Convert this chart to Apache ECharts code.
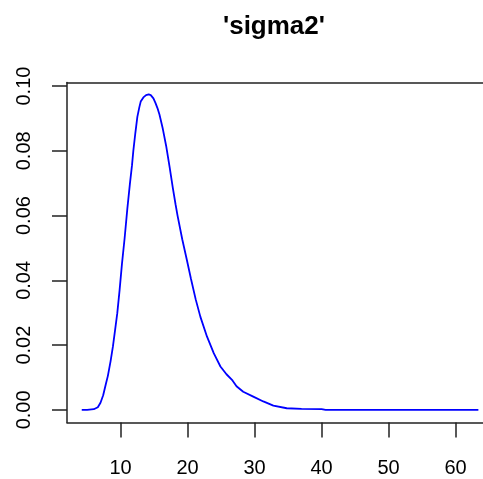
<!DOCTYPE html>
<html>
<head>
<meta charset="utf-8">
<script src="https://cdn.jsdelivr.net/npm/echarts@6/dist/echarts.min.js"></script>
<style>
    html, body { margin: 0; padding: 0; background: #fff; }
    #chart { width: 483px; height: 479px; }
</style>
</head>
<body>
<div id="chart"></div>
<script>
// density estimate of sigma2
const sigmaX = [
    4.2, 5.0, 6.0, 6.6, 7.0, 7.4, 7.8, 8.1, 8.5, 8.85,
    9.2, 9.5, 9.85, 10.2, 10.6, 11.0, 11.4, 11.7, 11.9, 12.2,
    12.5, 12.8, 13.0, 13.4, 13.8, 14.2, 14.5, 14.9, 15.2, 15.5,
    15.8, 16.3, 16.8, 17.3, 17.8, 18.2, 18.5, 19.2, 19.9, 20.5,
    21.2, 21.9, 22.9, 23.9, 24.9, 25.8, 26.7, 27.3, 28.3, 29.8,
    31.3, 32.8, 34.8, 37.0, 40.0, 40.6, 45, 50, 55, 60,
    63.4,
];
const density = [
    0, 0, 0.0002, 0.0008, 0.0022, 0.0045, 0.008, 0.0105, 0.015, 0.0195,
    0.025, 0.0298, 0.037, 0.045, 0.053, 0.062, 0.070, 0.0755, 0.080, 0.0855,
    0.0905, 0.0935, 0.0952, 0.0965, 0.0972, 0.0974, 0.0972, 0.0962, 0.0948, 0.0932,
    0.0912, 0.0868, 0.0815, 0.0752, 0.0685, 0.0635, 0.0600, 0.0527, 0.0462, 0.0405,
    0.0342, 0.0288, 0.0226, 0.0175, 0.0134, 0.0110, 0.0091, 0.0073, 0.0056, 0.0041,
    0.0026, 0.0013, 0.0005, 0.0003, 0.0002, 0, 0, 0, 0, 0,
    0,
];
const xTicks = [10, 20, 30, 40, 50, 60];
const yTicks = [0, 0.02, 0.04, 0.06, 0.08, 0.10];

const font = "'Liberation Sans', Arial, sans-serif";
const frame = { color: "#222", width: 1.5 };

const chart = echarts.init(document.getElementById("chart"));
chart.setOption({
    animation: false,
    title: {
        text: "'sigma2'",
        left: 218,
        top: 9,
        textStyle: {
            fontFamily: font,
            fontSize: 26,
            fontWeight: "bold",
            color: "#000",
        },
    },
    // plot box runs past the right edge of the picture, so no right border
    grid: {
        left: 67,
        top: 82.5,
        right: 0,
        height: 340,
    },
    xAxis: [
        {
            type: "value",
            min: 2.0,
            max: 64.09,
            axisLine: { show: true, onZero: false, lineStyle: frame },
            splitLine: { show: false },
            axisTick: {
                show: true,
                customValues: xTicks,
                length: 15,
                lineStyle: frame,
            },
            axisLabel: {
                customValues: xTicks,
                margin: 36,
                fontFamily: font,
                fontSize: 20,
                color: "#000",
            },
        },
        {
            // top edge of the box
            type: "value",
            position: "top",
            min: 2.0,
            max: 64.09,
            axisLine: { show: true, onZero: false, lineStyle: frame },
            axisTick: { show: false },
            axisLabel: { show: false },
            splitLine: { show: false },
        },
    ],
    yAxis: {
        type: "value",
        min: -0.0039,
        max: 0.1011,
        axisLine: { show: true, onZero: false, lineStyle: frame },
        splitLine: { show: false },
        axisTick: {
            show: true,
            customValues: yTicks,
            length: 15,
            lineStyle: frame,
        },
        axisLabel: {
            customValues: yTicks,
            rotate: 90,
            margin: 33,
            fontFamily: font,
            fontSize: 20,
            color: "#000",
            formatter: (v) => v.toFixed(2),
        },
    },
    series: [
        {
            type: "line",
            data: sigmaX.map((x, i) => [x, density[i]]),
            showSymbol: false,
            lineStyle: { color: "#0000ff", width: 1.8 },
        },
    ],
});
</script>
</body>
</html>
